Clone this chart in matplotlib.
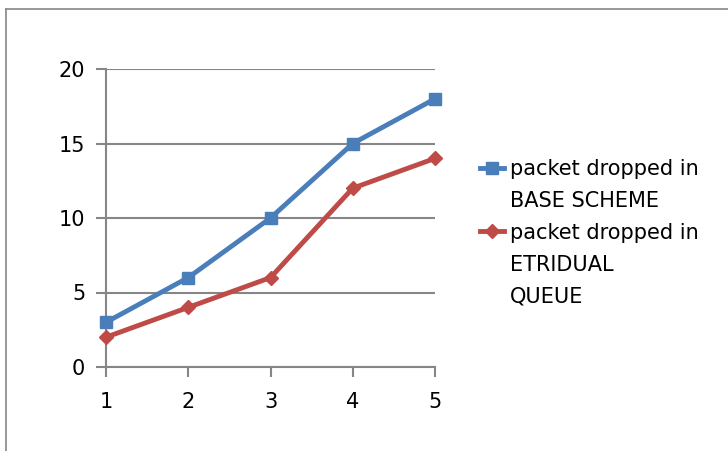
import matplotlib
matplotlib.use("Agg")
import matplotlib.pyplot as plt
from matplotlib.lines import Line2D

# Data
runs = [1, 2, 3, 4, 5]
base_scheme = [3, 6, 10, 15, 18]
etridual_queue = [2, 4, 6, 12, 14]
base_label = ["packet dropped in", "BASE SCHEME"]
etri_label = ["packet dropped in", "ETRIDUAL", "QUEUE"]
yticks = [0, 5, 10, 15, 20]

BLUE = "#4A7EBB"
RED = "#BE4B48"
GRAY = "#868686"

plt.rcParams["font.family"] = ["DejaVu Sans"]

fig = plt.figure(figsize=(7.28, 4.51), dpi=100)
W, H = 728, 451
ax = fig.add_axes([106 / W, 1 - 367 / H, 329 / W, 298 / H])

h_base, = ax.plot(runs, base_scheme, color=BLUE, lw=3.5, marker="s", markersize=9,
                  markerfacecolor=BLUE, markeredgecolor=BLUE,
                  clip_on=False, zorder=3)
h_etri, = ax.plot(runs, etridual_queue, color=RED, lw=3.5, marker="D", markersize=7,
                  markerfacecolor=RED, markeredgecolor=RED,
                  clip_on=False, zorder=3)

ax.set_xlim(1, 5)
ax.set_ylim(0, 20)
ax.set_xticks(runs)
ax.set_yticks(yticks)

for s in ["top", "right"]:
    ax.spines[s].set_visible(False)
for s in ["left", "bottom"]:
    ax.spines[s].set_color(GRAY)
    ax.spines[s].set_linewidth(1.5)

ax.yaxis.grid(True, color=GRAY, lw=1.5)
ax.set_axisbelow(True)
ax.tick_params(axis="y", length=7, width=1.5, color=GRAY, pad=8,
               labelsize=15, labelcolor="black")
ax.tick_params(axis="x", length=7, width=1.5, color=GRAY, pad=11,
               labelsize=15, labelcolor="black")

# Legend: marker on the first line of each wrapped label
blank = Line2D([], [], color="none")
handles = [h_base] + [blank] * (len(base_label) - 1) + [h_etri] + [blank] * (len(etri_label) - 1)
texts = base_label + etri_label
leg = ax.legend(handles, texts, loc="upper left",
                bbox_to_anchor=(480 / W, 1 - 159 / H),
                bbox_transform=fig.transFigure, frameon=False, fontsize=15,
                handlelength=1.15, handletextpad=0.3, labelspacing=0.57,
                borderpad=0, borderaxespad=0)

# Outer chart frame
fig.add_artist(Line2D([5.5 / W, 5.5 / W], [0, 1 - 8.5 / H],
                      transform=fig.transFigure, color=GRAY, lw=1.2))
fig.add_artist(Line2D([5.5 / W, 1], [1 - 8.5 / H, 1 - 8.5 / H],
                      transform=fig.transFigure, color=GRAY, lw=1.2))

fig.savefig("out.png", dpi=100)
